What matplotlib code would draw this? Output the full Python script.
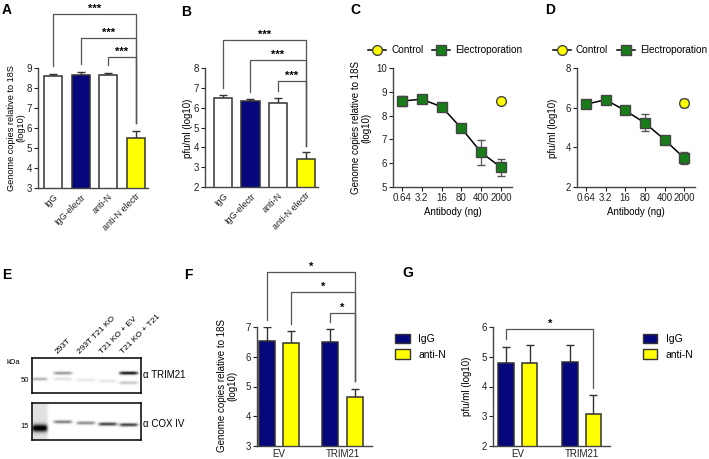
import numpy as np
import matplotlib.pyplot as plt
from matplotlib.lines import Line2D
from matplotlib.patches import Patch

plt.rcParams['font.family'] = ['Liberation Sans', 'DejaVu Sans']

# ---- data -------------------------------------------------------------
ab_labels = ["IgG", "IgG-electr", "anti-N", "anti-N electr"]
a_vals = [8.6, 8.65, 8.63, 5.52]
a_err = [0.1, 0.13, 0.12, 0.35]
a_brk = [11.7, 10.5, 9.55]           # bracket heights (vs anti-N electr)
b_vals = [6.48, 6.33, 6.25, 3.42]
b_err = [0.15, 0.1, 0.23, 0.32]
b_brk = [9.41, 8.4, 7.35]

doses = ["0.64", "3.2", "16", "80", "400", "2000"]
c_vals = [8.61, 8.69, 8.37, 7.47, 6.45, 5.82]
c_err = [0.22, 0.05, 0.08, 0.08, 0.52, 0.37]
c_ctrl, c_ctrl_err = 8.61, 0.05
d_vals = [6.17, 6.4, 5.86, 5.23, 4.39, 3.46]
d_err = [0.04, 0.05, 0.05, 0.43, 0.05, 0.3]
d_ctrl, d_ctrl_err = 6.23, 0.22

groups = ["EV", "TRIM21"]
fg_labels = ["IgG", "anti-N"]
f_vals = [6.52, 6.47, 6.49, 4.65]    # EV IgG, EV anti-N, TRIM21 IgG, TRIM21 anti-N
f_err = [0.48, 0.38, 0.44, 0.27]
f_brk = [8.85, 8.18, 7.47]
g_vals = [4.79, 4.79, 4.81, 3.09]
g_err = [0.54, 0.62, 0.6, 0.61]
g_brk = [5.93]

lanes = ["293T", "293T T21 KO", "T21 KO + EV", "T21 KO + T21"]
# western blot bands: lane (0 = ladder), vertical position in box, intensity
trim_lane = [0, 1, 1, 2, 3, 4, 4]
trim_pos = [0.6, 0.43, 0.6, 0.63, 0.66, 0.43, 0.71]
trim_int = [0.3, 0.4, 0.12, 0.1, 0.1, 0.95, 0.22]
cox_lane = [0, 1, 2, 3, 4]
cox_pos = [0.68, 0.51, 0.54, 0.57, 0.59]
cox_int = [1.0, 0.5, 0.45, 0.75, 0.75]

# ---- style ------------------------------------------------------------
navy = '#07077c'
yellow = '#ffff00'
green = '#187d18'
edge = '#333333'
grey = '#555555'

W, H = 709, 459
fig = plt.figure(figsize=(W / 100, H / 100), dpi=100)


def pax(x0, y0, x1, y1):
    return fig.add_axes([x0 / W, 1 - y1 / H, (x1 - x0) / W, (y1 - y0) / H])


def px(x, y):
    return x / W, 1 - y / H


def style(ax):
    for s in ['top', 'right']:
        ax.spines[s].set_visible(False)
    for s in ['left', 'bottom']:
        ax.spines[s].set_color('#444444')
        ax.spines[s].set_linewidth(1)
    ax.tick_params(labelsize=7, length=3, width=0.8, pad=1.5, colors='#222222')


def bracket(ax, x1, x2, h, y1, y2, text):
    ax.plot([x1, x1, x2, x2], [y1, h, h, y2], color=grey, lw=0.9, clip_on=False)
    ax.annotate(text, ((x1 + x2) / 2, h), xytext=(0, 0.3), textcoords='offset points',
                ha='center', va='bottom', fontsize=8, fontweight='bold', annotation_clip=False)


def bar_panel(ax, x, vals, errs, colors, width):
    ax.bar(x, vals, width=width, color=colors, edgecolor=edge, linewidth=1.1, zorder=2)
    ax.errorbar(x, vals, yerr=[np.zeros(len(vals)), errs], fmt='none', ecolor=edge,
                elinewidth=1, capsize=3, capthick=1, zorder=1)


def panel_letter(x, y, s):
    fig.text(*px(x, y), s, fontsize=10, fontweight='bold', ha='left', va='center')


def ylab(x, y, s, size=7):
    fig.text(*px(x, y), s, fontsize=size, rotation=90, ha='center', va='center',
             multialignment='center', linespacing=1.05)


# ---- A and B ----------------------------------------------------------
ab_colors = ['white', navy, 'white', yellow]
for box, vals, errs, brk, ylim, gap in [((38, 68, 148, 188), a_vals, a_err, a_brk, (3, 9), 0.4),
                                         ((205, 68, 318, 187), b_vals, b_err, b_brk, (2, 8), 0.35)]:
    ax = pax(*box)
    style(ax)
    x = np.arange(len(vals))
    bar_panel(ax, x, vals, errs, ab_colors, 0.66)
    ax.set_ylim(*ylim)
    ax.set_yticks(range(ylim[0], ylim[1] + 1))
    ax.set_xlim(-0.55 if ylim[0] == 3 else -0.65, 3.45)
    ax.set_xticks(x, ab_labels, rotation=45, ha='right', rotation_mode='anchor', fontsize=6.5)
    ax.tick_params(axis='x', length=0, pad=3)
    top_last = vals[3] + errs[3] + gap
    for i, h in enumerate(brk):
        bracket(ax, i, 3, h, vals[i] + errs[i] + gap, top_last, '***')

ylab(16, 128, "Genome copies relative to 18S\n(log10)", 6.6)
ylab(188, 128, "pfu/ml (log10)")
panel_letter(2, 10, "A")
panel_letter(181, 12, "B")

# ---- C and D ----------------------------------------------------------
for box, vals, errs, ctrl, cerr, ylim, yticks, lx in [
        ((393, 68, 512, 187), c_vals, c_err, c_ctrl, c_ctrl_err, (5, 10), range(5, 11), 0.44),
        ((577, 68, 695, 187), d_vals, d_err, d_ctrl, d_ctrl_err, (2, 8), range(2, 9, 2), 0.45)]:
    ax = pax(*box)
    style(ax)
    x = np.arange(len(vals))
    ax.errorbar(x, vals, yerr=errs, fmt='-s', color='black', lw=1.1, mfc=green, mec='#444444',
                mew=1, ms=7, ecolor=grey, elinewidth=0.9, capsize=3, capthick=0.9)
    ax.errorbar([x[-1]], [ctrl], yerr=[cerr], fmt='o', mfc=yellow, mec='#444444', mew=1, ms=7,
                ecolor=grey, elinewidth=0.9, capsize=3, capthick=0.9)
    ax.set_ylim(*ylim)
    ax.set_yticks(list(yticks))
    ax.set_xlim(-0.45, 5.55)
    ax.set_xticks(x, doses)
    ax.set_xlabel("Antibody (ng)", fontsize=7, labelpad=3)
    hnd = [Line2D([], [], color='black', lw=1.1, marker='o', mfc=yellow, mec='#444444', ms=7),
           Line2D([], [], color='black', lw=1.1, marker='s', mfc=green, mec='#444444', ms=7)]
    ax.legend(hnd, ["Control", "Electroporation"], ncol=2, frameon=False, fontsize=7.2,
              handlelength=1.8, handletextpad=0.5, columnspacing=0.9, loc='center',
              bbox_to_anchor=(lx, 1.15), borderaxespad=0, borderpad=0)

ylab(361, 128, "Genome copies relative to 18S\n(log10)")
ylab(553, 128, "pfu/ml (log10)")
panel_letter(350, 10, "C")
panel_letter(545, 10, "D")

# ---- E: western blot --------------------------------------------------
lane_x = [0.07, 0.28, 0.49, 0.69, 0.88]


def blot(box, lane_idx, pos, inten, ladder_smear):
    ax = pax(*box)
    yy, xx = np.mgrid[0:1:120j, 0:1:330j]
    img = np.zeros_like(xx)
    for l, p, i in zip(lane_idx, pos, inten):
        hw = 0.07 if l == 0 else 0.085
        sy = 0.1 if (l == 0 and i > 0.9) else 0.045
        img += i * np.exp(-((xx - lane_x[l]) / hw) ** 6) * np.exp(-((yy - p) / sy) ** 2)
    img += ladder_smear * np.exp(-((xx - lane_x[0]) / 0.075) ** 6)
    ax.imshow(np.clip(img, 0, 1), cmap='gray_r', vmin=0, vmax=1, extent=[0, 1, 1, 0],
              aspect='auto', interpolation='bilinear')
    ax.set_xticks([])
    ax.set_yticks([])
    for s in ax.spines.values():
        s.set_linewidth(1.1)
        s.set_color('black')
    return ax


blot((32, 358, 141, 393), trim_lane, trim_pos, trim_int, 0.0)
blot((32, 403, 141, 440), cox_lane, cox_pos, cox_int, 0.12)
for i, name in enumerate(lanes):
    fig.text(*px(32 + lane_x[i + 1] * 109 - 4, 355), name, fontsize=6, rotation=45,
             ha='left', va='bottom', rotation_mode='anchor')
fig.text(*px(6, 362), "kDa", fontsize=5.5, ha='left', va='center')
fig.text(*px(29, 380), "50", fontsize=5.5, ha='right', va='center')
fig.text(*px(29, 427), "15", fontsize=5.5, ha='right', va='center')
fig.text(*px(143, 375), "\u03b1 TRIM21", fontsize=7, ha='left', va='center')
fig.text(*px(143, 424), "\u03b1 COX IV", fontsize=7, ha='left', va='center')
panel_letter(2, 275, "E")

# ---- F and G ----------------------------------------------------------
fg_colors = [navy, yellow, navy, yellow]
for box, xs, vals, errs, brk, pairs, ylim, gap, lgx in [
        ((257, 327, 372, 446), [0, 1, 2.6, 3.6], f_vals, f_err, f_brk, [(0, 3), (1, 3), (2, 3)], (3, 7), 0.25, 1.12),
        ((493, 327, 610, 446), [0, 1, 2.7, 3.7], g_vals, g_err, g_brk, [(0, 3)], (2, 6), 0.25, 1.2)]:
    ax = pax(*box)
    style(ax)
    bar_panel(ax, xs, vals, errs, fg_colors, 0.66)
    ax.set_ylim(*ylim)
    ax.set_yticks(range(ylim[0], ylim[1] + 1))
    ax.set_xlim(-0.4 if ylim[0] == 3 else -0.55, xs[-1] + 0.7)
    ax.set_xticks([(xs[0] + xs[1]) / 2, (xs[2] + xs[3]) / 2], groups)
    ax.tick_params(axis='x', length=0, pad=2)
    for (i, j), h in zip(pairs, brk):
        bracket(ax, xs[i], xs[j], h, vals[i] + errs[i] + gap, vals[j] + errs[j] + gap, '*')
    hnd = [Patch(facecolor=navy, edgecolor=edge), Patch(facecolor=yellow, edgecolor=edge)]
    ax.legend(hnd, fg_labels, frameon=False, fontsize=7.5, loc='upper left',
              bbox_to_anchor=(lgx, 1.02), handlelength=1.4, handleheight=1.0, labelspacing=0.5)

ylab(227, 386, "Genome copies relative to 18S\n(log10)")
ylab(467, 386, "pfu/ml (log10)")
panel_letter(184, 275, "F")
panel_letter(402, 273, "G")

fig.savefig("out.png", dpi=100)
